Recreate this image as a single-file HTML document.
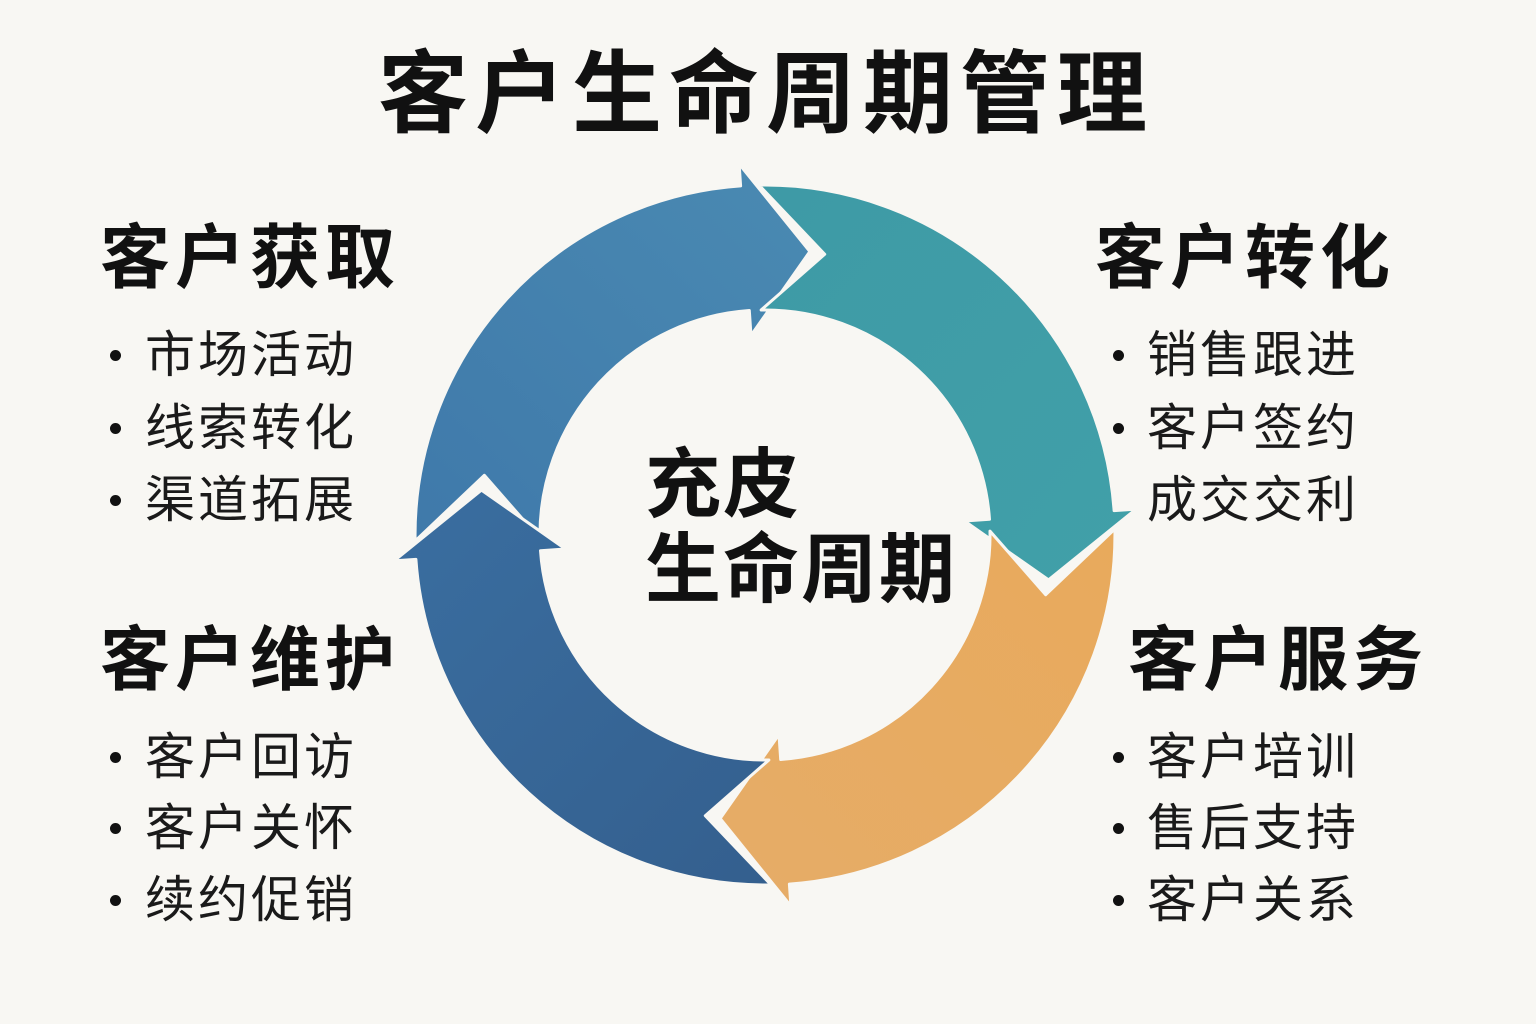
<!DOCTYPE html>
<html><head><meta charset="utf-8">
<style>
html,body{margin:0;padding:0;}
body{width:1536px;height:1024px;background:#f8f7f3;position:relative;overflow:hidden;font-family:"Liberation Sans","Noto Sans CJK SC",sans-serif;color:#111;}
.t{position:absolute;line-height:1;white-space:nowrap;}
.h{font-weight:700;font-size:70px;letter-spacing:5px;}
.b{font-size:50px;letter-spacing:3px;color:#1a1a1a;}
.dot{position:absolute;width:11px;height:11px;border-radius:50%;background:#111;}
svg{position:absolute;left:0;top:0;}
</style></head><body>
<svg id="s" width="1536" height="1024" viewBox="0 0 1536 1024">
<defs>
<linearGradient id="g1" x1="0" y1="1" x2="1" y2="0"><stop offset="0" stop-color="#3f79aa"/><stop offset="1" stop-color="#4a8ab2"/></linearGradient>
<linearGradient id="g2" x1="0" y1="0" x2="1" y2="1"><stop offset="0" stop-color="#3e9aa6"/><stop offset="1" stop-color="#41a0a8"/></linearGradient>
<linearGradient id="g3" x1="1" y1="0" x2="0" y2="1"><stop offset="0" stop-color="#e8aa5c"/><stop offset="1" stop-color="#e6ac68"/></linearGradient>
<linearGradient id="g4" x1="0" y1="0" x2="1" y2="1"><stop offset="0" stop-color="#3a6ea0"/><stop offset="1" stop-color="#345f8e"/></linearGradient>
</defs>
</svg>
<script>
(function(){
var cx=765,cy=535,R=350,r=225;
function P(rad,a){var t=a*Math.PI/180;return (cx+rad*Math.cos(t)).toFixed(1)+" "+(cy+rad*Math.sin(t)).toFixed(1);}
var segs=[[179,266,"url(#g1)"],[269,356,"url(#g2)"],[359,446,"url(#g3)"],[449,536,"url(#g4)"]];
var s=document.getElementById("s");
segs.forEach(function(g){
var a=g[0],b=g[1];
var d="M"+P(R,a)+" A"+R+" "+R+" 0 0 1 "+P(R,b)+" L"+P(372,b)+" L"+P(287,b+13)+" L"+P(200,b)+" L"+P(r,b)+" A"+r+" "+r+" 0 0 0 "+P(r,a)+" L"+P(287,a+13)+" Z";
var p=document.createElementNS("http://www.w3.org/2000/svg","path");
p.setAttribute("d",d);p.setAttribute("fill",g[2]);
p.setAttribute("stroke","#f8f7f3");p.setAttribute("stroke-width","3");p.setAttribute("stroke-linejoin","round");
s.appendChild(p);
});
})();
</script>

<div class="t" style="left:378px;top:50px;font-size:90px;font-weight:700;letter-spacing:7px;">客户生命周期管理</div>

<div class="t h" style="left:100px;top:223px;">客户获取</div>
<div class="dot" style="left:110px;top:350px;"></div><div class="t b" style="left:145px;top:330px;">市场活动</div>
<div class="dot" style="left:110px;top:423px;"></div><div class="t b" style="left:145px;top:403px;">线索转化</div>
<div class="dot" style="left:110px;top:495px;"></div><div class="t b" style="left:145px;top:475px;">渠道拓展</div>

<div class="t h" style="left:1095px;top:223px;">客户转化</div>
<div class="dot" style="left:1113px;top:350px;"></div><div class="t b" style="left:1147px;top:330px;">销售跟进</div>
<div class="dot" style="left:1113px;top:423px;"></div><div class="t b" style="left:1147px;top:403px;">客户签约</div>
<div class="t b" style="left:1147px;top:475px;">成交交利</div>

<div class="t h" style="left:100px;top:625px;">客户维护</div>
<div class="dot" style="left:110px;top:752px;"></div><div class="t b" style="left:145px;top:732px;">客户回访</div>
<div class="dot" style="left:110px;top:823px;"></div><div class="t b" style="left:145px;top:803px;">客户关怀</div>
<div class="dot" style="left:110px;top:895px;"></div><div class="t b" style="left:145px;top:875px;">续约促销</div>

<div class="t h" style="left:1128px;top:625px;">客户服务</div>
<div class="dot" style="left:1113px;top:752px;"></div><div class="t b" style="left:1147px;top:732px;">客户培训</div>
<div class="dot" style="left:1113px;top:823px;"></div><div class="t b" style="left:1147px;top:803px;">售后支持</div>
<div class="dot" style="left:1113px;top:895px;"></div><div class="t b" style="left:1147px;top:875px;">客户关系</div>

<div class="t" style="left:645px;top:448px;font-size:76px;font-weight:700;letter-spacing:2px;">充皮</div>
<div class="t" style="left:645px;top:533px;font-size:76px;font-weight:700;letter-spacing:2px;">生命周期</div>
</body></html>
